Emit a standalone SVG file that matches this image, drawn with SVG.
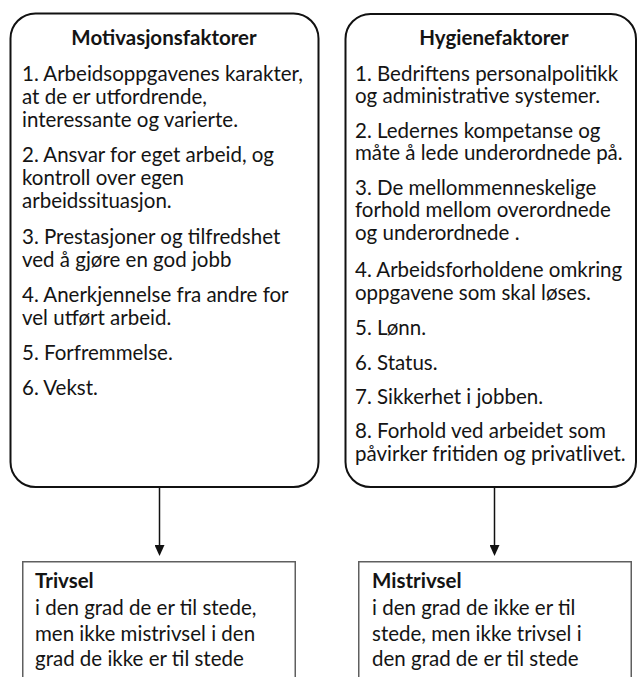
<svg xmlns="http://www.w3.org/2000/svg" width="638" height="677" viewBox="0 0 638 677">
  <style>
    .bg { fill: #ffffff; }
    .factor { fill: #ffffff; stroke: #111111; stroke-width: 2; }
    .result { fill: #ffffff; stroke: #5f5f5f; stroke-width: 1.5; }
    text { font-family: Lato, "Open Sans", "Liberation Sans", sans-serif; font-size: 20.5px; fill: #141414; }
    .title { font-weight: bold; text-anchor: middle; }
    .head { font-weight: bold; }
    .link { stroke: #111111; stroke-width: 1.5; fill: none; marker-end: url(#arrow); }
  </style>
  <defs>
    <marker id="arrow" viewBox="0 0 11 10" refX="0" refY="5" markerWidth="11" markerHeight="10" markerUnits="userSpaceOnUse" orient="auto">
      <path d="M0,0 L11,5 L0,10 z" fill="#111111"/>
    </marker>
  </defs>

  <rect class="bg" x="0" y="0" width="638" height="677"/>

  <!-- Motivation factors -->
  <g id="motivasjonsfaktorer">
    <rect class="factor" x="10.5" y="13.5" width="308" height="473.5" rx="25" ry="25"/>
    <text class="title" x="164" y="45">Motivasjonsfaktorer</text>
    <text x="22" y="81">1. Arbeidsoppgavenes karakter,</text>
    <text x="22" y="104">at de er utfordrende,</text>
    <text x="22" y="127">interessante og varierte.</text>
    <text x="22" y="162">2. Ansvar for eget arbeid, og</text>
    <text x="22" y="185">kontroll over egen</text>
    <text x="22" y="208">arbeidssituasjon.</text>
    <text x="22" y="244">3. Prestasjoner og tilfredshet</text>
    <text x="22" y="267">ved å gjøre en god jobb</text>
    <text x="22" y="302">4. Anerkjennelse fra andre for</text>
    <text x="22" y="325">vel utført arbeid.</text>
    <text x="22" y="360">5. Forfremmelse.</text>
    <text x="22" y="395">6. Vekst.</text>
  </g>

  <!-- Hygiene factors -->
  <g id="hygienefaktorer">
    <rect class="factor" x="345.5" y="14" width="290.5" height="473" rx="25" ry="25"/>
    <text class="title" x="494" y="45">Hygienefaktorer</text>
    <text x="355" y="81">1. Bedriftens personalpolitikk</text>
    <text x="355" y="103">og administrative systemer.</text>
    <text x="355" y="138">2. Ledernes kompetanse og</text>
    <text x="355" y="160">måte å lede underordnede på.</text>
    <text x="355" y="195">3. De mellommenneskelige</text>
    <text x="355" y="217">forhold mellom overordnede</text>
    <text x="355" y="240">og underordnede .</text>
    <text x="355" y="277">4. Arbeidsforholdene omkring</text>
    <text x="355" y="300">oppgavene som skal løses.</text>
    <text x="355" y="335">5. Lønn.</text>
    <text x="355" y="370">6. Status.</text>
    <text x="355" y="404">7. Sikkerhet i jobben.</text>
    <text x="355" y="438">8. Forhold ved arbeidet som</text>
    <text x="355" y="461">påvirker fritiden og privatlivet.</text>
  </g>

  <!-- Outcomes -->
  <g id="trivsel">
    <rect class="result" x="22.75" y="561.75" width="272.5" height="130"/>
    <text class="head" x="35" y="588">Trivsel</text>
    <text x="35" y="615">i den grad de er til stede,</text>
    <text x="35" y="641">men ikke mistrivsel i den</text>
    <text x="35" y="666">grad de ikke er til stede</text>
  </g>

  <g id="mistrivsel">
    <rect class="result" x="358.75" y="561.75" width="272.5" height="130"/>
    <text class="head" x="372" y="588">Mistrivsel</text>
    <text x="372" y="615">i den grad de ikke er til</text>
    <text x="372" y="641">stede, men ikke trivsel i</text>
    <text x="372" y="666">den grad de er til stede</text>
  </g>

  <!-- Connectors -->
  <g id="connectors">
    <line class="link" x1="159.5" y1="488" x2="159.5" y2="545"/>
    <line class="link" x1="494.5" y1="488" x2="494.5" y2="545"/>
  </g>
</svg>
